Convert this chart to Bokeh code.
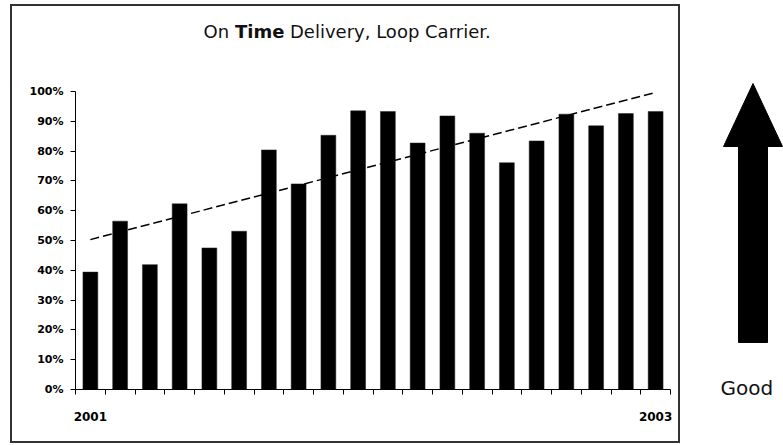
from bokeh.plotting import figure
from bokeh.layouts import column, row
from bokeh.models import (FixedTicker, PrintfTickFormatter, ColumnDataSource, Range1d)
from bokeh.core.properties import value
from bokeh.embed import file_html
from bokeh.resources import INLINE

# ---- data ----
periods = list(range(1, 21))
on_time = [39.4, 56.5, 41.9, 62.3, 47.5, 53.1, 80.4, 69.0, 85.3, 93.5,
           93.3, 82.7, 91.8, 86.0, 76.1, 83.4, 92.4, 88.5, 92.6, 93.3]
trend_x = [1, 20]
trend_y = [50.3, 99.7]
y_ticks = [0, 10, 20, 30, 40, 50, 60, 70, 80, 90, 100]
x_label_map = {1: "2001", 20: "2003"}
title_parts = ["On", "Time", "Delivery, Loop Carrier."]
title_styles = ["normal", "bold", "normal"]

FONT = "DejaVu Sans"
TXT_DY = 8  # svg baseline correction

# ---- geometry (page pixels) ----
BOX_L, BOX_T, BOX_R, BOX_B = 10, 4, 680, 443
BW = 2
IN_L, IN_T = BOX_L + BW, BOX_T + BW
IN_W = BOX_R - BOX_L - 2 * BW
IN_H = BOX_B - BOX_T - 2 * BW
TITLE_H = 60
CHART_H = IN_H - TITLE_H
F_LEFT, F_RIGHT, F_TOP, F_BOTTOM = 75, 670, 91, 389

# ---- title strip (its frame is aligned with the chart frame by the column) ----
tf = figure(width=IN_W, height=TITLE_H, output_backend="svg", toolbar_location=None,
            x_range=Range1d(F_LEFT, F_RIGHT), y_range=Range1d(IN_T + TITLE_H, IN_T),
            x_axis_type=None, y_axis_type=None, min_border=0)
tf.outline_line_color = None
tf.grid.visible = False
title_x = [203, 234.5, 289.5]
for txt, xx, st in zip(title_parts, title_x, title_styles):
    tf.text(x=[xx], y=[39 - TXT_DY], text=[txt], text_font=value(FONT),
            text_font_size="18px", text_font_style=st, text_color="#111111",
            text_align="left", text_baseline="alphabetic")

# ---- chart ----
top_local = F_TOP - (IN_T + TITLE_H)
bottom_local = F_BOTTOM - (IN_T + TITLE_H)
p = figure(width=IN_W, height=CHART_H, output_backend="svg", toolbar_location=None,
           x_range=(0.5, 20.5), y_range=(0, 100),
           min_border_left=F_LEFT - IN_L, min_border_right=(IN_L + IN_W) - F_RIGHT,
           min_border_top=top_local, min_border_bottom=CHART_H - bottom_local)
p.background_fill_color = "white"
p.border_fill_color = "white"
p.outline_line_color = None
p.grid.visible = False

src = ColumnDataSource(dict(x=periods, top=on_time))
p.vbar(x="x", top="top", bottom=0, width=0.5, source=src,
       fill_color="black", line_color="#222222", line_width=0.5)
p.line(trend_x, trend_y, line_color="black", line_width=1.5, line_dash="9 4")

ya = p.yaxis[0]
ya.ticker = FixedTicker(ticks=y_ticks, minor_ticks=[])
ya.formatter = PrintfTickFormatter(format="%d%%")
ya.major_tick_out = 5
ya.major_tick_in = 0
ya.minor_tick_out = 0
ya.minor_tick_in = 0
ya.axis_line_color = "black"
ya.major_tick_line_color = "black"
ya.major_label_text_font = FONT
ya.major_label_text_font_style = "bold"
ya.major_label_text_font_size = "11px"
ya.major_label_text_color = "black"
ya.major_label_standoff = 7

xa = p.xaxis[0]
bounds = [i + 0.5 for i in range(0, 21)]
xa.ticker = FixedTicker(ticks=periods, minor_ticks=bounds)
xa.major_label_overrides = {k: x_label_map.get(k, "") for k in periods}
xa.major_tick_out = 0
xa.major_tick_in = 0
xa.minor_tick_out = 5
xa.minor_tick_in = 0
xa.axis_line_color = "black"
xa.minor_tick_line_color = "black"
xa.major_label_text_font = FONT
xa.major_label_text_font_style = "bold"
xa.major_label_text_font_size = "12px"
xa.major_label_text_color = "black"
xa.major_label_standoff = 17

box = column(tf, p, styles={"border": f"{BW}px solid #333333"},
             margin=(BOX_T, 0, 0, BOX_L))

# ---- "Good" arrow strip ----
AW = 783 - BOX_R
af = figure(width=AW, height=445, output_backend="svg", toolbar_location=None,
            x_range=Range1d(0, AW), y_range=Range1d(445, 0),
            x_axis_type=None, y_axis_type=None, min_border=0)
af.outline_line_color = None
af.grid.visible = False
arrow_px = [752.5, 782, 767, 767, 738, 738, 723]
arrow_py = [83, 146, 146, 342, 342, 146, 146]
af.patch([v - BOX_R for v in arrow_px], arrow_py, fill_color="black", line_color="black")
af.text(x=[720 - BOX_R], y=[395 - TXT_DY], text=["Good"], text_font=value(FONT),
        text_font_size="20px", text_color="#111111",
        text_align="left", text_baseline="alphabetic")

layout = row(box, af)
open("out.html", "w").write(file_html(layout, INLINE))
